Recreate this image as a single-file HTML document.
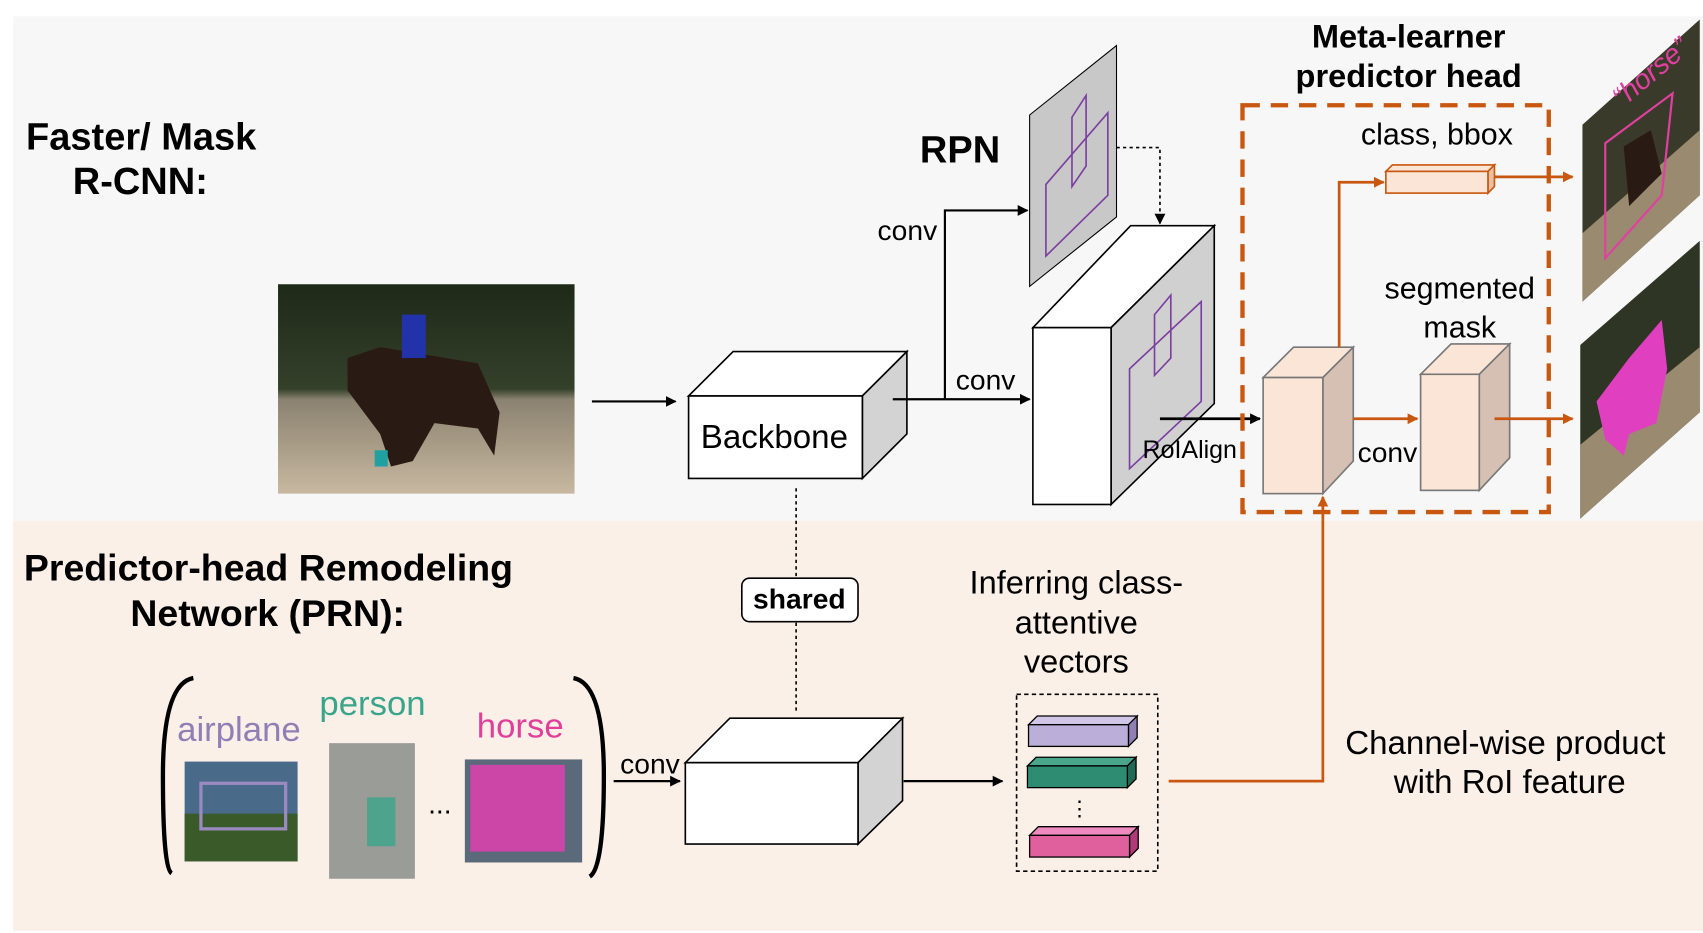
<!DOCTYPE html>
<html><head><meta charset="utf-8"><style>html,body{margin:0;padding:0;background:#fff}svg{display:block}text{font-family:"Liberation Sans",sans-serif}</style></head><body>
<svg width="1703" height="933" viewBox="0 0 1568 860" preserveAspectRatio="none" xmlns="http://www.w3.org/2000/svg">
<defs>
<marker id="ak" markerWidth="10" markerHeight="10" refX="9" refY="5" orient="auto" markerUnits="userSpaceOnUse"><path d="M0,0 L10,5 L0,10 z" fill="#000"/></marker>
<marker id="ao" markerWidth="10" markerHeight="10" refX="9" refY="5" orient="auto" markerUnits="userSpaceOnUse"><path d="M0,0 L10,5 L0,10 z" fill="#c8570f"/></marker>
<linearGradient id="ph" x1="0" y1="0" x2="0" y2="1"><stop offset="0" stop-color="#1e2a18"/><stop offset="0.5" stop-color="#34402a"/><stop offset="0.55" stop-color="#8a8270"/><stop offset="1" stop-color="#c8b8a0"/></linearGradient>
</defs>
<rect x="0" y="0" width="1568" height="860" fill="#fff"/>
<rect x="12" y="15" width="1556" height="465" fill="#f7f7f7"/>
<rect x="12" y="480" width="1556" height="378" fill="#fbf0e8"/>

<text x="24" y="138" font-size="35" font-weight="bold">Faster/ Mask</text>
<text x="67" y="179" font-size="35" font-weight="bold">R-CNN:</text>
<text x="847" y="150" font-size="35" font-weight="bold">RPN</text>
<text x="1297" y="44" font-size="30" font-weight="bold" text-anchor="middle">Meta-learner</text>
<text x="1297" y="80" font-size="30" font-weight="bold" text-anchor="middle">predictor head</text>
<text x="22" y="535" font-size="34.5" font-weight="bold">Predictor-head Remodeling</text>
<text x="120" y="577" font-size="34.5" font-weight="bold">Network (PRN):</text>

<!-- input photo -->
<rect x="256" y="262" width="273" height="193" fill="url(#ph)"/>
<path d="M320,330 L350,320 L440,335 L460,380 L455,420 L440,395 L400,390 L380,425 L360,430 L350,400 L320,360 Z" fill="#2a1a14"/>
<rect x="370" y="290" width="22" height="40" fill="#2233aa"/>
<rect x="345" y="415" width="12" height="15" fill="#20a0a0"/>
<line x1="545" y1="370" x2="622" y2="370" stroke="#000" stroke-width="2" marker-end="url(#ak)"/>

<!-- backbone -->
<polygon points="634,365 675,324 835,324 794,365" fill="#fff" stroke="#000" stroke-width="1.5"/>
<polygon points="794,365 835,324 835,400 794,441" fill="#d3d3d3" stroke="#000" stroke-width="1.5"/>
<rect x="634" y="365" width="160" height="76" fill="#fff" stroke="#000" stroke-width="1.5"/>
<text x="713" y="413" font-size="30.5" text-anchor="middle">Backbone</text>

<polyline points="822,368 948,368" fill="none" stroke="#000" stroke-width="2" marker-end="url(#ak)"/>
<polyline points="870,368 870,194 946,194" fill="none" stroke="#000" stroke-width="2" marker-end="url(#ak)"/>
<text x="808" y="221" font-size="26">conv</text>
<text x="880" y="359" font-size="26">conv</text>

<!-- RPN panel -->
<polygon points="948,106 1028,42 1028,200 948,264" fill="#c8c8c8" stroke="#000" stroke-width="1"/>
<polygon points="963,170 1020,104 1020,180 963,236" fill="none" stroke="#7b3fa0" stroke-width="1.5"/>
<polygon points="987,108 1000,88 1000,153 987,172" fill="none" stroke="#7b3fa0" stroke-width="1.5"/>
<polyline points="1028,136 1068,136 1068,206" fill="none" stroke="#000" stroke-width="1.5" stroke-dasharray="3,3" marker-end="url(#ak)"/>

<!-- feature map -->
<polygon points="951,302 1041,208 1118,208 1023,302" fill="#fff" stroke="#000" stroke-width="1.5"/>
<polygon points="1023,302 1118,208 1118,372 1023,465" fill="#d0d0d0" stroke="#000" stroke-width="1.5"/>
<rect x="951" y="302" width="72" height="163" fill="#fff" stroke="#000" stroke-width="1.5"/>
<polygon points="1040,340 1106,278 1106,370 1040,432" fill="none" stroke="#7b3fa0" stroke-width="1.5"/>
<polygon points="1063,290 1078,272 1078,330 1063,346" fill="none" stroke="#7b3fa0" stroke-width="1.5"/>
<line x1="1068" y1="386" x2="1160" y2="386" stroke="#000" stroke-width="2.5" marker-end="url(#ak)"/>
<text x="1052" y="422" font-size="23">RoIAlign</text>

<!-- orange dashed -->
<rect x="1144" y="97" width="282" height="375" fill="none" stroke="#c8570f" stroke-width="4" stroke-dasharray="16,10"/>
<text x="1253" y="133" font-size="28">class, bbox</text>
<text x="1344" y="275" font-size="28" text-anchor="middle">segmented</text>
<text x="1344" y="311" font-size="28" text-anchor="middle">mask</text>

<!-- peach box 1 -->
<polygon points="1163,348 1191,320 1246,320 1218,348" fill="#fbe5d6" stroke="#777" stroke-width="1.5"/>
<polygon points="1218,348 1246,320 1246,425 1218,455" fill="#d5c0b3" stroke="#777" stroke-width="1.5"/>
<rect x="1163" y="348" width="55" height="107" fill="#fbe5d6" stroke="#777" stroke-width="1.5"/>
<!-- peach box 2 -->
<polygon points="1308,345 1336,317 1390,317 1362,345" fill="#fbe5d6" stroke="#777" stroke-width="1.5"/>
<polygon points="1362,345 1390,317 1390,422 1362,452" fill="#d5c0b3" stroke="#777" stroke-width="1.5"/>
<rect x="1308" y="345" width="54" height="107" fill="#fbe5d6" stroke="#777" stroke-width="1.5"/>
<!-- small class box -->
<polygon points="1276,158 1282,152 1376,152 1370,158" fill="#fbe5d6" stroke="#c8570f" stroke-width="1.5"/>
<polygon points="1370,158 1376,152 1376,172 1370,178" fill="#e8c0a0" stroke="#c8570f" stroke-width="1.5"/>
<rect x="1276" y="158" width="94" height="20" fill="#fbe5d6" stroke="#c8570f" stroke-width="1.5"/>

<g stroke="#c8570f" stroke-width="2.5" fill="none">
<polyline points="1233,320 1233,168 1274,168" marker-end="url(#ao)"/>
<line x1="1376" y1="163" x2="1448" y2="163" marker-end="url(#ao)"/>
<line x1="1246" y1="386" x2="1305" y2="386" marker-end="url(#ao)"/>
<line x1="1376" y1="386" x2="1448" y2="386" marker-end="url(#ao)"/>
<polyline points="1076,720 1218,720 1218,458" marker-end="url(#ao)"/>
</g>
<text x="1250" y="426" font-size="26">conv</text>

<!-- output images -->
<polygon points="1457,115 1565,18 1565,180 1457,278" fill="#3a3a2a"/>
<polygon points="1457,215 1565,120 1565,180 1457,278" fill="#9a8a70"/>
<path d="M1495,135 L1520,120 L1530,160 L1500,190 Z" fill="#2a1a14"/>
<polygon points="1478,132 1540,86 1530,180 1478,238" fill="none" stroke="#e040a0" stroke-width="2"/>
<text x="1475" y="92" font-size="26" fill="#e040a0" font-style="italic" transform="rotate(-40 1495 70)">“horse”</text>
<polygon points="1455,318 1565,222 1565,380 1455,478" fill="#2e3524"/>
<polygon points="1455,410 1565,320 1565,380 1455,478" fill="#9a8a70"/>
<path d="M1470,370 L1500,330 L1530,295 L1535,340 L1525,390 L1500,400 L1495,420 L1478,405 Z" fill="#e040c0"/>

<!-- shared -->
<line x1="733" y1="450" x2="733" y2="532" stroke="#000" stroke-width="1.5" stroke-dasharray="3,3"/>
<line x1="733" y1="574" x2="733" y2="658" stroke="#000" stroke-width="1.5" stroke-dasharray="3,3"/>
<rect x="683" y="533" width="107" height="40" rx="7" fill="#fff" stroke="#000" stroke-width="1.5"/>
<text x="736" y="561" font-size="26" font-weight="bold" text-anchor="middle">shared</text>

<!-- bracket & examples -->
<path d="M178,625 Q150,630 150,715 Q150,800 158,805" fill="none" stroke="#000" stroke-width="4"/>
<path d="M528,625 Q556,630 556,715 Q556,800 543,808" fill="none" stroke="#000" stroke-width="4"/>
<text x="220" y="683" font-size="32" fill="#8f7fb5" text-anchor="middle">airplane</text>
<text x="343" y="659" font-size="32" fill="#3aa58a" text-anchor="middle">person</text>
<text x="479" y="680" font-size="32" fill="#e0409a" text-anchor="middle">horse</text>
<rect x="170" y="702" width="104" height="92" fill="#4a6a8a"/>
<rect x="170" y="750" width="104" height="44" fill="#3a5a2a"/>
<rect x="185" y="722" width="78" height="42" fill="none" stroke="#9a8ac0" stroke-width="3"/>
<rect x="303" y="685" width="79" height="125" fill="#9a9c98"/>
<rect x="338" y="735" width="26" height="45" fill="#3aa58a" opacity="0.8"/>
<text x="405" y="750" font-size="26" text-anchor="middle">...</text>
<rect x="428" y="700" width="108" height="95" fill="#5a6a7a"/>
<rect x="433" y="705" width="87" height="80" fill="#e040b0" opacity="0.85"/>
<line x1="565" y1="720" x2="626" y2="720" stroke="#000" stroke-width="2" marker-end="url(#ak)"/>
<text x="571" y="713" font-size="26">conv</text>

<!-- PRN block -->
<polygon points="631,703 672,662 831,662 790,703" fill="#fff" stroke="#000" stroke-width="1.5"/>
<polygon points="790,703 831,662 831,738 790,778" fill="#d3d3d3" stroke="#000" stroke-width="1.5"/>
<rect x="631" y="703" width="159" height="75" fill="#fff" stroke="#000" stroke-width="1.5"/>
<line x1="832" y1="720" x2="923" y2="720" stroke="#000" stroke-width="2" marker-end="url(#ak)"/>

<text x="991" y="547" font-size="30" text-anchor="middle">Inferring class-</text>
<text x="991" y="584" font-size="30" text-anchor="middle">attentive</text>
<text x="991" y="620" font-size="30" text-anchor="middle">vectors</text>
<rect x="936" y="640" width="130" height="163" fill="none" stroke="#000" stroke-width="1.5" stroke-dasharray="4,3"/>
<g stroke="#000" stroke-width="1.2">
<polygon points="947,668 955,660 1047,660 1039,668" fill="#d2c6e8"/>
<polygon points="1039,668 1047,660 1047,680 1039,688" fill="#8f7fb5"/>
<rect x="947" y="668" width="92" height="20" fill="#bbaed8"/>
<polygon points="946,706 954,698 1046,698 1038,706" fill="#4aa58a"/>
<polygon points="1038,706 1046,698 1046,718 1038,726" fill="#1f6a55"/>
<rect x="946" y="706" width="92" height="20" fill="#2e8c72"/>
<polygon points="948,770 956,762 1048,762 1040,770" fill="#ee8ac0"/>
<polygon points="1040,770 1048,762 1048,782 1040,790" fill="#b03a7a"/>
<rect x="948" y="770" width="92" height="20" fill="#e0609e"/>
</g>
<text x="994" y="752" font-size="20" text-anchor="middle">⋮</text>

<text x="1386" y="695" font-size="30.5" text-anchor="middle">Channel-wise product</text>
<text x="1390" y="731" font-size="30.5" text-anchor="middle">with RoI feature</text>
</svg>
</body></html>
